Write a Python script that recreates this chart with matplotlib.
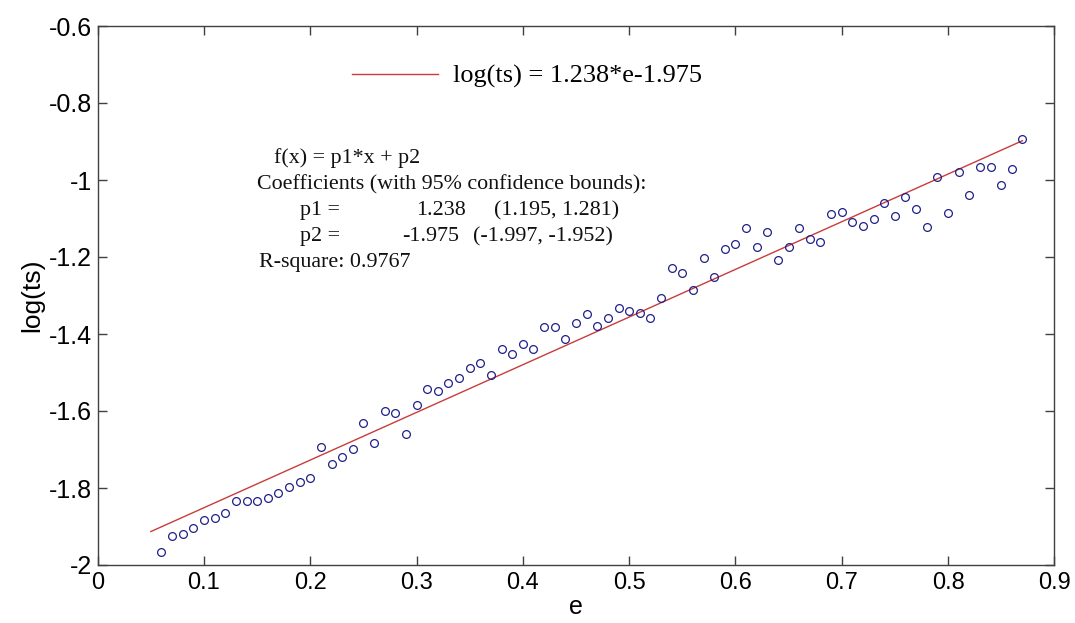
import matplotlib
matplotlib.use("Agg")
import matplotlib.pyplot as plt

# measured points
e_vals = [0.06, 0.07, 0.08, 0.09, 0.10, 0.11, 0.12, 0.13, 0.14, 0.15,
          0.16, 0.17, 0.18, 0.19, 0.20, 0.21, 0.22, 0.23, 0.24, 0.25,
          0.26, 0.27, 0.28, 0.29, 0.30, 0.31, 0.32, 0.33, 0.34, 0.35,
          0.36, 0.37, 0.38, 0.39, 0.40, 0.41, 0.42, 0.43, 0.44, 0.45,
          0.46, 0.47, 0.48, 0.49, 0.50, 0.51, 0.52, 0.53, 0.54, 0.55,
          0.56, 0.57, 0.58, 0.59, 0.60, 0.61, 0.62, 0.63, 0.64, 0.65,
          0.66, 0.67, 0.68, 0.69, 0.70, 0.71, 0.72, 0.73, 0.74, 0.75,
          0.76, 0.77, 0.78, 0.79, 0.80, 0.81, 0.82, 0.83, 0.84, 0.85,
          0.86, 0.87]
log_ts = [-1.967, -1.924, -1.919, -1.904, -1.884, -1.879, -1.864, -1.834, -1.834, -1.834,
          -1.827, -1.814, -1.797, -1.784, -1.774, -1.694, -1.738, -1.720, -1.699, -1.630,
          -1.683, -1.600, -1.606, -1.660, -1.585, -1.542, -1.548, -1.528, -1.515, -1.488,
          -1.475, -1.506, -1.438, -1.453, -1.427, -1.440, -1.382, -1.382, -1.412, -1.372,
          -1.347, -1.380, -1.359, -1.332, -1.339, -1.346, -1.358, -1.307, -1.229, -1.242,
          -1.286, -1.203, -1.252, -1.179, -1.165, -1.124, -1.174, -1.136, -1.209, -1.174,
          -1.124, -1.154, -1.161, -1.088, -1.084, -1.108, -1.120, -1.101, -1.061, -1.093,
          -1.045, -1.076, -1.123, -0.993, -1.087, -0.980, -1.038, -0.965, -0.967, -1.013,
          -0.971, -0.893]

# linear fit results
p1, p2 = 1.238, -1.975
p1_ci = (1.195, 1.281)
p2_ci = (-1.997, -1.952)
r_square = 0.9767
fit_range = [0.05, 0.87]

x_ticks = [0, 0.1, 0.2, 0.3, 0.4, 0.5, 0.6, 0.7, 0.8, 0.9]
x_labels = ['0', '0.1', '0.2', '0.3', '0.4', '0.5', '0.6', '0.7', '0.8', '0.9']
y_ticks = [-2, -1.8, -1.6, -1.4, -1.2, -1, -0.8, -0.6]
y_labels = ['-2', '-1.8', '-1.6', '-1.4', '-1.2', '-1', '-0.8', '-0.6']

W, H = 1075, 623
fig = plt.figure(figsize=(W / 100, H / 100), dpi=100)
ax = fig.add_axes([97.7 / W, 1 - 565 / H, (1054.3 - 97.7) / W, (565 - 26) / H])

ax.plot(e_vals, log_ts, 'o', ls='none', mfc='none', mec='#20208a',
        mew=0.9, ms=5.6, zorder=3)
fit_y = [p1 * x + p2 for x in fit_range]
ax.plot(fit_range, fit_y, color='#c83c3c', lw=1.0,
        label='log(ts) = %.3f*e%.3f' % (p1, p2), zorder=2)

ax.set_xlim(0, 0.9)
ax.set_ylim(-2, -0.6)
ax.set_xticks(x_ticks)
ax.set_xticklabels(x_labels)
ax.set_yticks(y_ticks)
ax.set_yticklabels(y_labels)
ax.tick_params(direction='in', length=6.5, width=1, color='#404040', top=True, right=True)
ax.tick_params(axis='x', labelsize=17, pad=5)
ax.tick_params(axis='y', labelsize=18, pad=4)
for lbl in ax.get_xticklabels() + ax.get_yticklabels():
    lbl.set_family(['Liberation Sans', 'DejaVu Sans'])
for sp in ax.spines.values():
    sp.set_color('#404040')
    sp.set_linewidth(1.0)

ax.set_xlabel('e', fontsize=18, family='Liberation Sans', labelpad=1)
ax.set_ylabel('log(ts)', fontsize=19, family='Liberation Sans', labelpad=3)

serif = {'family': 'Liberation Serif', 'size': 18.9}
ax.legend(loc='center left', bbox_to_anchor=(351.7 / W, 1 - 76.5 / H),
          bbox_transform=fig.transFigure, frameon=False, prop=serif,
          handlelength=3.3, handletextpad=0.57, borderpad=0, borderaxespad=0)

# fit summary block
txt = dict(fontsize=15.8, family='Liberation Serif', va='baseline', color='#111111')
def put(px, py, s):
    fig.text(px / W, 1 - py / H, s, **txt)

put(274.3, 163.3, 'f(x) = p1*x + p2')
put(256.7, 189.3, 'Coefficients (with 95% confidence bounds):')
put(300, 215.3, 'p1 =')
put(415.7, 215.3, '%.3f' % p1)
put(494, 215.3, '(%.3f, %.3f)' % p1_ci)
put(300, 241.3, 'p2 =')
put(402.3, 241.3, '%.3f' % p2)
put(473.3, 241.3, '(%.3f, %.3f)' % p2_ci)
put(259.3, 267.3, 'R-square: %.4f' % r_square)

fig.savefig('out.png', dpi=100)
